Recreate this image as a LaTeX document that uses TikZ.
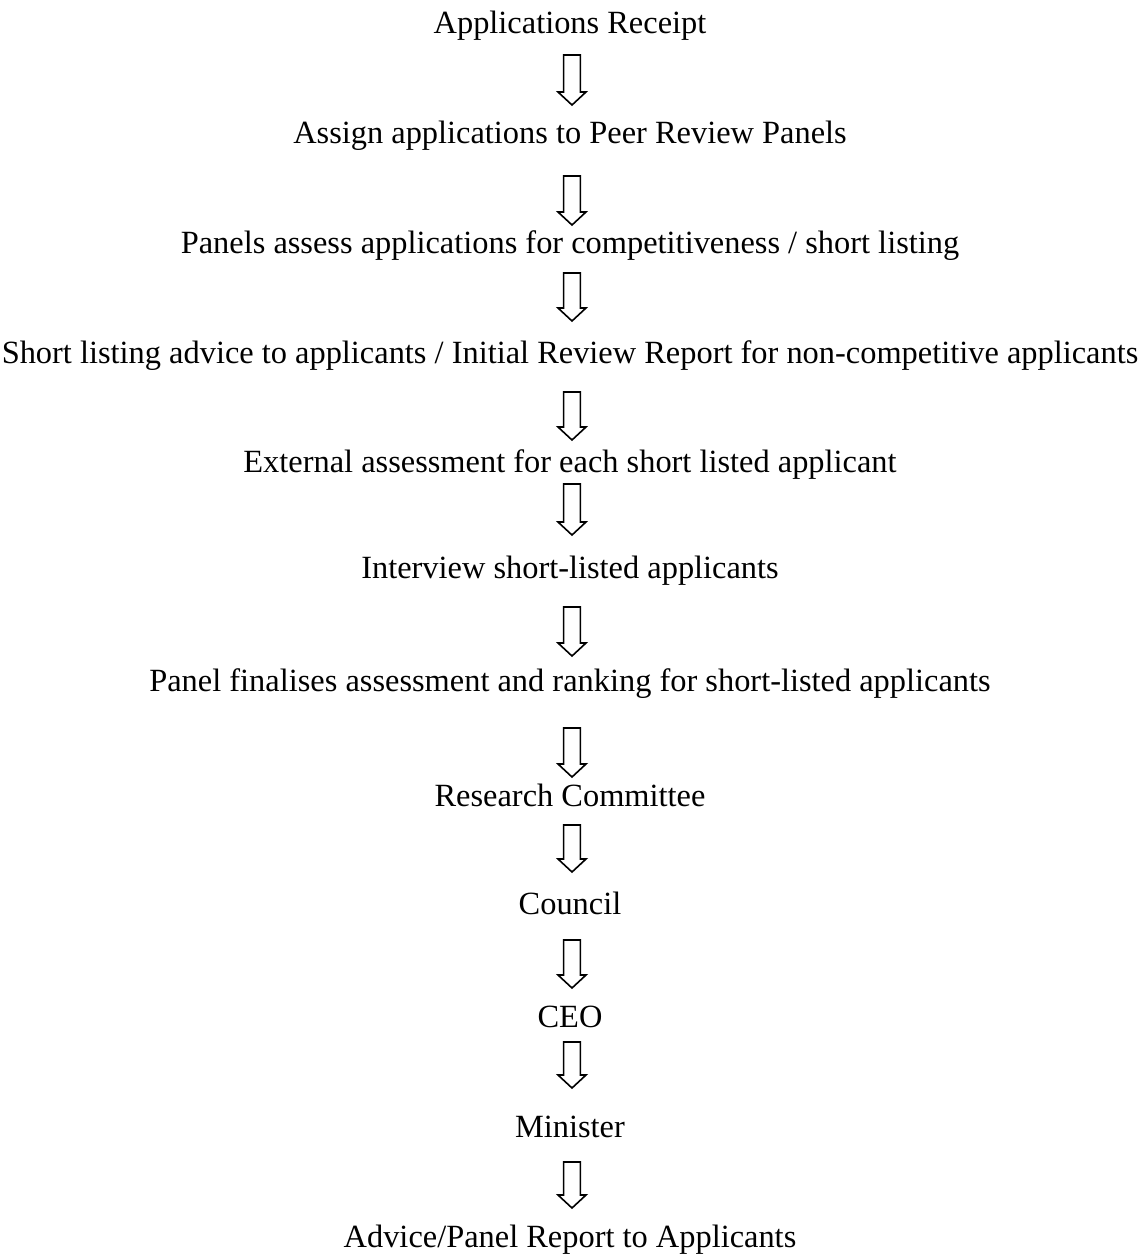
\documentclass[tikz,border=0pt]{standalone}
\usepackage{fontspec}
\setmainfont{Liberation Serif}
\usetikzlibrary{calc}
\tikzset{
  lbl/.style={inner sep=0pt, anchor=base, font=\fontsize{16.2}{19}\selectfont},
  blockarrow/.style={draw=black, line width=0.8pt, fill=white, line join=miter}
}
\newcommand{\barrow}[2]{%
  \draw[blockarrow] let \p1=(#1), \p2=(#2) in
    (\x1-4.2pt,\y1) -- (\x1+4.2pt,\y1) -- (\x1+4.2pt,\y2+6.5pt) -- (\x1+7pt,\y2+6.5pt)
    -- (\x1,\y2) -- (\x1-7pt,\y2+6.5pt) -- (\x1-4.2pt,\y2+6.5pt) -- cycle;}
\begin{document}
\begin{tikzpicture}[x=0.5pt,y=-0.5pt]
\useasboundingbox (0,0) rectangle (1141,1254);
\node[lbl] (n1) at (570,33) {Applications Receipt};
\node[lbl] (n2) at (570,143) {Assign applications to Peer Review Panels};
\node[lbl] (n3) at (570,253) {Panels assess applications for competitiveness / short listing};
\node[lbl] (n4) at (570,363) {Short listing advice to applicants / Initial Review Report for non-competitive applicants};
\node[lbl] (n5) at (570,472) {External assessment for each short listed applicant};
\node[lbl] (n6) at (570,578) {Interview short-listed applicants};
\node[lbl] (n7) at (570,691) {Panel finalises assessment and ranking for short-listed applicants};
\node[lbl] (n8) at (570,806) {Research Committee};
\node[lbl] (n9) at (570,914) {Council};
\node[lbl] (n10) at (570,1027) {CEO};
\node[lbl] (n11) at (570,1137) {Minister};
\node[lbl] (n12) at (570,1247) {Advice/Panel Report to Applicants};
\coordinate (a1t) at (572,55);   \coordinate (a1b) at (572,105);
\coordinate (a2t) at (572,176);  \coordinate (a2b) at (572,225);
\coordinate (a3t) at (572,273);  \coordinate (a3b) at (572,321);
\coordinate (a4t) at (572,392);  \coordinate (a4b) at (572,440);
\coordinate (a5t) at (572,484);  \coordinate (a5b) at (572,535);
\coordinate (a6t) at (572,607);  \coordinate (a6b) at (572,656);
\coordinate (a7t) at (572,728);  \coordinate (a7b) at (572,777);
\coordinate (a8t) at (572,825);  \coordinate (a8b) at (572,872);
\coordinate (a9t) at (572,940);  \coordinate (a9b) at (572,988);
\coordinate (a10t) at (572,1042); \coordinate (a10b) at (572,1088);
\coordinate (a11t) at (572,1162); \coordinate (a11b) at (572,1208);
\foreach \i in {1,...,11} {\barrow{a\i t}{a\i b}}
\end{tikzpicture}
\end{document}
